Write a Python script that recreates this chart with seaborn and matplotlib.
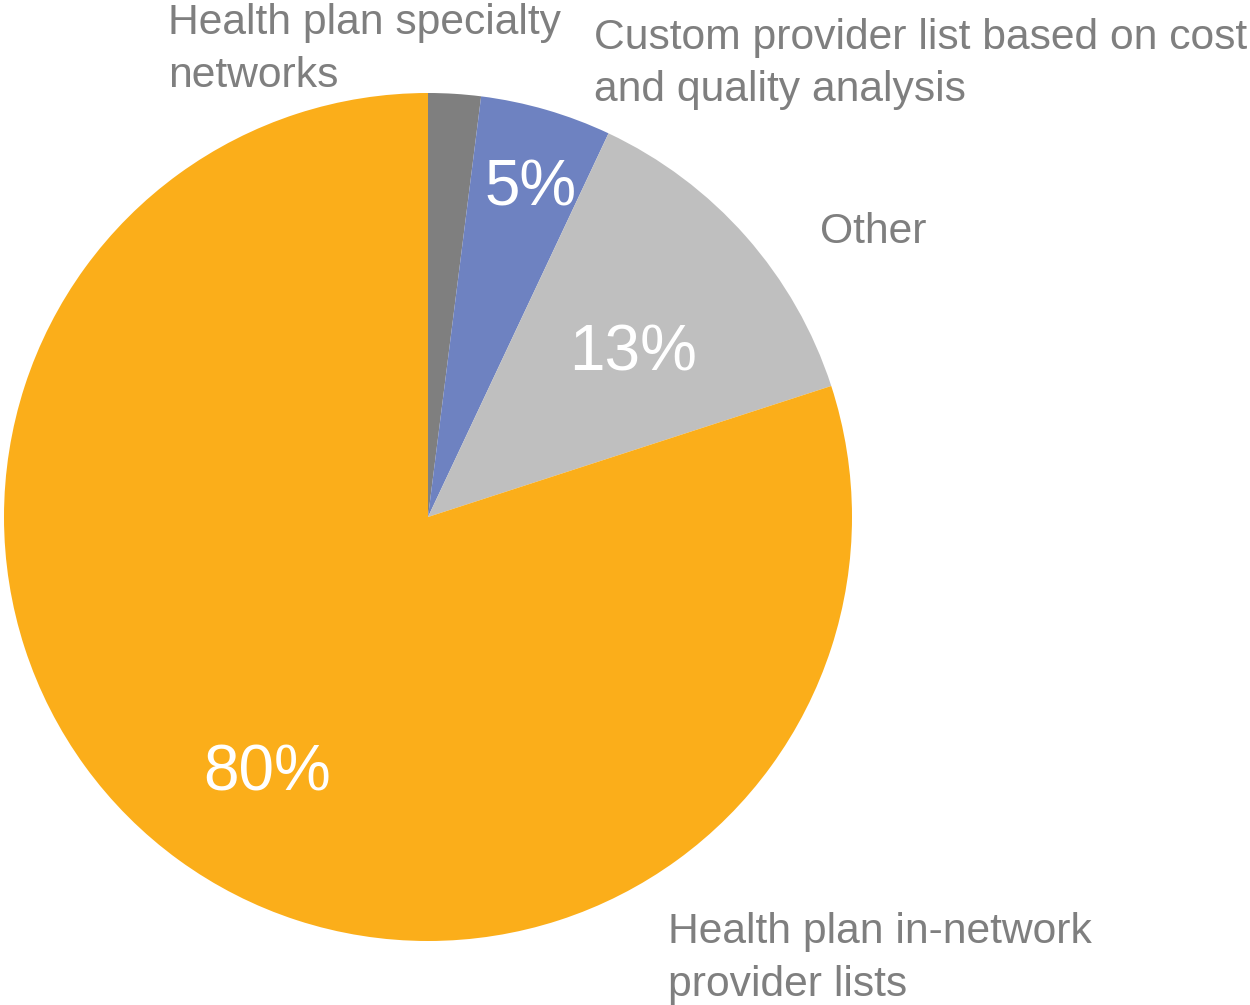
import matplotlib
matplotlib.use("Agg")
import matplotlib.pyplot as plt
import seaborn as sns

# Share of responses by provider-list source
categories = [
    "Health plan specialty\nnetworks",
    "Custom provider list based on cost\nand quality analysis",
    "Other",
    "Health plan in-network\nprovider lists",
]
shares = [2, 5, 13, 80]
colors = ["#7F7F7F", "#6E82C1", "#BFBFBF", "#FBAE1A"]

sns.set_theme(style="white")
plt.rcParams["font.family"] = ["Liberation Sans", "DejaVu Sans"]

fig = plt.figure(figsize=(12.5, 10.05), dpi=100)
W, H = 1250, 1005
cx, cy, r = 428, 517, 424
ax = fig.add_axes([(cx - r) / W, (H - cy - r) / H, 2 * r / W, 2 * r / H])

wedges, _ = ax.pie(
    shares,
    colors=colors,
    startangle=90,
    counterclock=False,
    radius=1.0,
    wedgeprops=dict(linewidth=0),
)
ax.set_xlim(-1, 1)
ax.set_ylim(-1, 1)
ax.set_axis_off()

# Percent labels inside slices (only for slices large enough)
pct_pos = {1: (0.241, 0.775), 2: (0.483, 0.385), 3: (-0.380, -0.605)}
for i, (x, y) in pct_pos.items():
    ax.text(x, y, f"{shares[i]}%", color="white", fontsize=46,
            ha="center", va="center")

# Category labels outside the pie
cat_pos = [(-0.613, 1.103), (0.392, 1.068), (0.925, 0.672), (0.566, -1.041)]
for label, (x, y) in zip(categories, cat_pos):
    ax.text(x, y, label, color="#7F7F7F", fontsize=30.7, ha="left",
            va="center", multialignment="left", linespacing=1.4,
            clip_on=False)

fig.savefig("out.png", dpi=100)
